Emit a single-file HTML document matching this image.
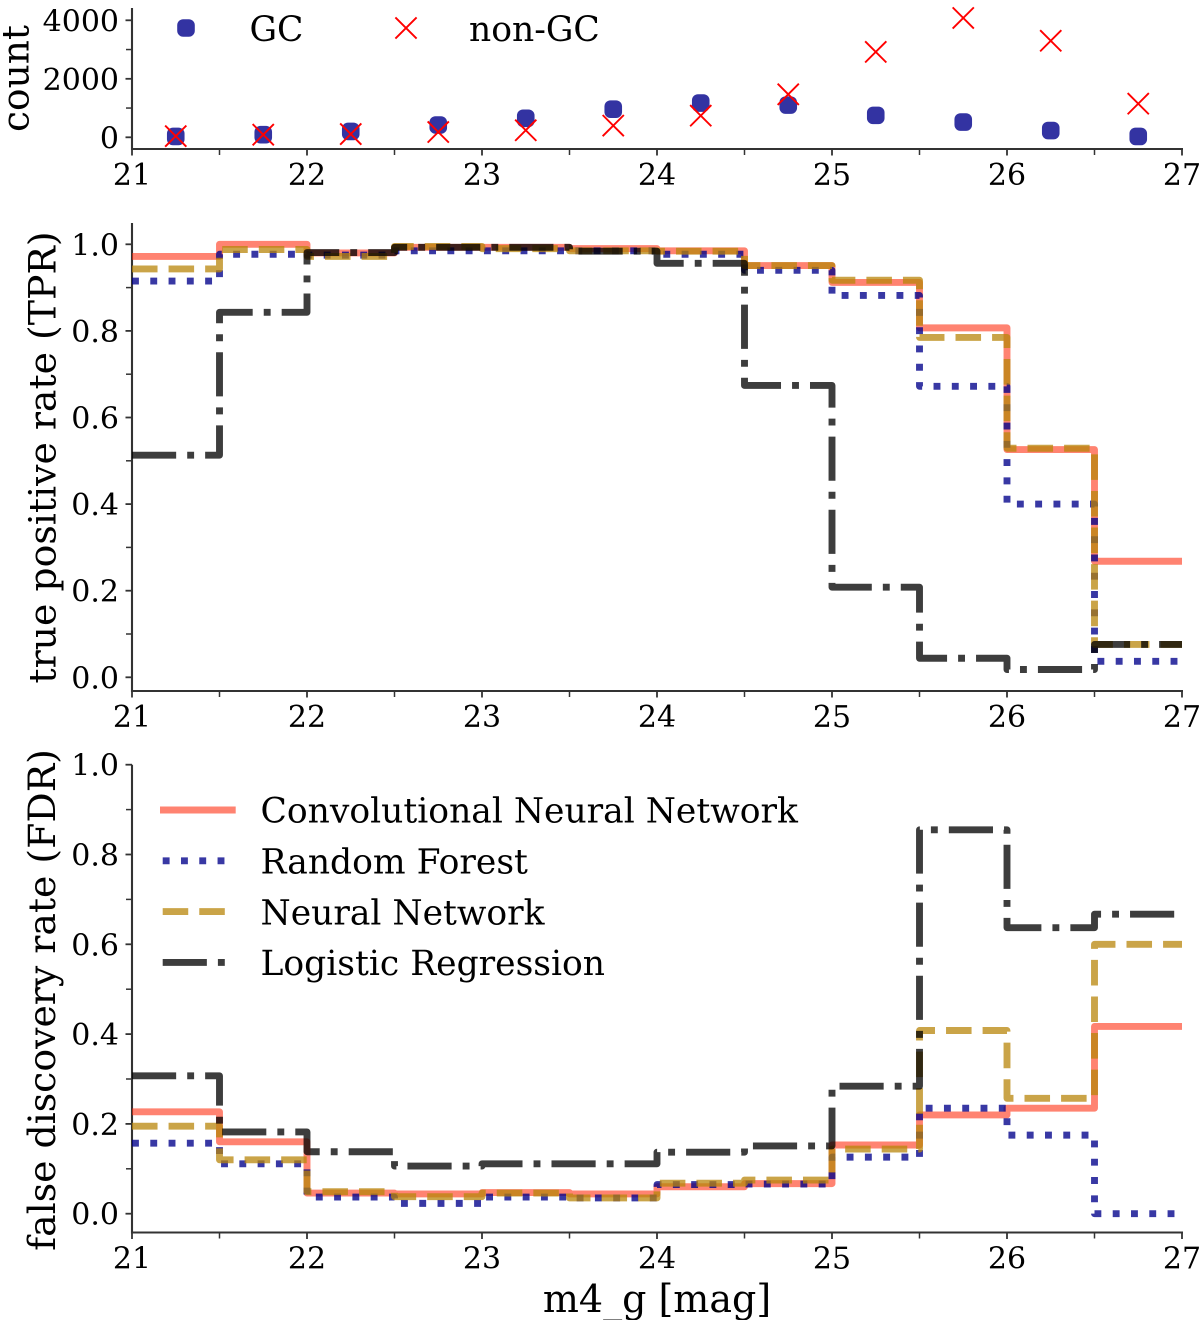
<!DOCTYPE html>
<html lang="en">
<head>
<meta charset="utf-8">
<title>GC classifier performance by magnitude</title>
<style>
html,body{margin:0;padding:0;background:#fff;width:1200px;height:1320px;overflow:hidden}
svg{display:block}
text{font-family:"DejaVu Serif","Liberation Serif",serif;fill:#000}
</style>
</head>
<body>
<svg id="chart" xmlns="http://www.w3.org/2000/svg" width="1200" height="1320" viewBox="0 0 1200 1320">
  <rect width="1200" height="1320" fill="#fff"/>
  <g id="counts-panel"></g>
  <g id="tpr-panel"></g>
  <g id="fdr-panel"></g>
  <text transform="translate(28.5,78.5) rotate(-90)" text-anchor="middle" font-size="37.5">count</text>
  <text transform="translate(55.5,457.5) rotate(-90)" text-anchor="middle" font-size="37.8">true positive rate (TPR)</text>
  <text transform="translate(55,1000) rotate(-90)" text-anchor="middle" font-size="37.8">false discovery rate (FDR)</text>
  <text x="657" y="1312" text-anchor="middle" font-size="38">m4_g [mag]</text>
  <g id="counts-legend"></g>
  <g id="fdr-legend"></g>
</svg>
<script>
// ---- data ----
const binEdges = [21, 21.5, 22, 22.5, 23, 23.5, 24, 24.5, 25, 25.5, 26, 26.5, 27];
const binCenters = [21.25, 21.75, 22.25, 22.75, 23.25, 23.75, 24.25, 24.75, 25.25, 25.75, 26.25, 26.75];
const gcCounts = [30, 90, 200, 420, 650, 960, 1170, 1100, 750, 520, 230, 30];
const nonGcCounts = [40, 90, 110, 180, 240, 400, 740, 1470, 2920, 4080, 3300, 1150];

const tprCnn = [0.972, 1.0, 0.98, 0.993, 0.993, 0.99, 0.985, 0.951, 0.912, 0.807, 0.526, 0.268];
const tprRf = [0.915, 0.977, 0.975, 0.985, 0.985, 0.985, 0.977, 0.94, 0.882, 0.672, 0.40, 0.037];
const tprNn = [0.943, 0.988, 0.972, 0.995, 0.99, 0.985, 0.984, 0.951, 0.917, 0.785, 0.529, 0.076];
const tprLr = [0.513, 0.843, 0.981, 0.993, 0.993, 0.984, 0.956, 0.674, 0.208, 0.044, 0.018, 0.076];

const fdrCnn = [0.227, 0.16, 0.046, 0.044, 0.047, 0.044, 0.06, 0.067, 0.153, 0.22, 0.235, 0.417];
const fdrRf = [0.157, 0.111, 0.037, 0.023, 0.037, 0.035, 0.065, 0.066, 0.126, 0.235, 0.175, 0];
const fdrNn = [0.195, 0.12, 0.049, 0.038, 0.046, 0.035, 0.068, 0.075, 0.144, 0.408, 0.257, 0.60];
const fdrLr = [0.307, 0.182, 0.138, 0.106, 0.111, 0.111, 0.137, 0.151, 0.284, 0.855, 0.637, 0.667];

const xTickLabels = [21, 22, 23, 24, 25, 26, 27];
const xMinorTicks = [21.5, 22.5, 23.5, 24.5, 25.5, 26.5];
const countTickLabels = [0, 2000, 4000];
const countMinorTicks = [1000, 3000];
const rateTickLabels = ["0.0", "0.2", "0.4", "0.6", "0.8", "1.0"];
const rateMinorTicks = [0.1, 0.3, 0.5, 0.7, 0.9];
const modelNames = ["Convolutional Neural Network", "Random Forest", "Neural Network", "Logistic Regression"];

// ---- axis functions ----
const NS = "http://www.w3.org/2000/svg";
const xPos = v => 132 + (v - 21) * 175;
const yCount = v => 137.3 - v * 0.02925;
const yTpr = v => 677.3 - v * 433;
const yFdr = v => 1213.7 - v * 449;

const SPINE = "#333";
const LW = 6.9;
const modelStyles = [
  { color: "#ff2a0a", opacity: 0.58, dash: "" },
  { color: "#00008b", opacity: 0.78, dash: LW + " " + (LW * 1.65) },
  { color: "#b8860b", opacity: 0.75, dash: (LW * 3.7) + " " + (LW * 1.6) },
  { color: "#000", opacity: 0.76, dash: (LW * 6.4) + " " + (LW * 1.6) + " " + LW + " " + (LW * 1.6) }
];

function add(parent, tag, attrs) {
  const el = document.createElementNS(NS, tag);
  for (const k in attrs) el.setAttribute(k, attrs[k]);
  parent.appendChild(el);
  return el;
}
function addText(parent, str, attrs) {
  const t = add(parent, "text", attrs);
  t.textContent = str;
  return t;
}

function drawAxes(g, yFn, top, bottom, yLabels, yValues, yMinor, prefix) {
  const left = add(g, "line", { x1: 132, x2: 132, y1: top, y2: bottom + 1, stroke: SPINE, "stroke-width": 2.1 });
  
  
  const base = add(g, "line", { x1: 131, x2: 1183, y1: bottom, y2: bottom, stroke: SPINE, "stroke-width": 2.1 });
  
  

  xTickLabels.forEach(v => {
    const tick = add(g, "line", { x1: xPos(v), x2: xPos(v), y1: bottom, y2: bottom + 6.5, stroke: SPINE, "stroke-width": 1.8 });
    
    
    const label = addText(g, String(v), { x: xPos(v), y: bottom + 36, "text-anchor": "middle", "font-size": 30 });
    
    
  });
  xMinorTicks.forEach(v => {
    const tick = add(g, "line", { x1: xPos(v), x2: xPos(v), y1: bottom, y2: bottom + 6, stroke: SPINE, "stroke-width": 1.5 });
    
    
  });
  yValues.forEach((v, i) => {
    const tick = add(g, "line", { x1: 125.5, x2: 132, y1: yFn(v), y2: yFn(v), stroke: SPINE, "stroke-width": 1.8 });
    
    
    const label = addText(g, yLabels[i], { x: 119, y: yFn(v) + 11, "text-anchor": "end", "font-size": 30 });
    
    
  });
  yMinor.forEach(v => {
    const tick = add(g, "line", { x1: 126, x2: 132, y1: yFn(v), y2: yFn(v), stroke: SPINE, "stroke-width": 1.5 });
    
    
  });
}

function stepPoints(values, yFn) {
  const pts = [];
  values.forEach((v, i) => {
    pts.push(xPos(binEdges[i]) + "," + yFn(v));
    pts.push(xPos(binEdges[i + 1]) + "," + yFn(v));
  });
  return pts.join(" ");
}

function drawStep(g, values, yFn, style, name) {
  const line = add(g, "polyline", {
    points: stepPoints(values, yFn),
    fill: "none",
    stroke: style.color,
    "stroke-opacity": style.opacity,
    "stroke-width": LW,
    "stroke-linejoin": "round",
    "stroke-linecap": "butt"
  });
  if (style.dash) line.setAttribute("stroke-dasharray", style.dash);
  
  
}

function drawGcMarker(g, cx, cy, name) {
  const c = add(g, "rect", { x: cx - 8.8, y: cy - 8.8, width: 17.6, height: 17.6, rx: 6, ry: 6, fill: "#00008b", "fill-opacity": 0.8 });
  
  
}
function drawCross(g, cx, cy, name) {
  const r = 10.6;
  const p = add(g, "path", {
    d: "M" + (cx - r) + " " + (cy - r) + "L" + (cx + r) + " " + (cy + r) + "M" + (cx - r) + " " + (cy + r) + "L" + (cx + r) + " " + (cy - r),
    stroke: "#f00", "stroke-width": 1.9, fill: "none"
  });
  
  
}

// ---- counts panel ----
const countsPanel = document.getElementById("counts-panel");
drawAxes(countsPanel, yCount, 8, 149, countTickLabels.map(String), countTickLabels, countMinorTicks, "counts");
binCenters.forEach((c, i) => drawGcMarker(countsPanel, xPos(c), yCount(gcCounts[i]), "gc-count-point"));
binCenters.forEach((c, i) => drawCross(countsPanel, xPos(c), yCount(nonGcCounts[i]), "non-gc-count-point"));

const countsLegend = document.getElementById("counts-legend");
drawGcMarker(countsLegend, 186, 28, "legend-gc-marker");
drawCross(countsLegend, 406, 28, "legend-non-gc-marker");
const gcLabel = addText(countsLegend, "GC", { x: 249.5, y: 41, "font-size": 34.5 });


const nonGcLabel = addText(countsLegend, "non-GC", { x: 469, y: 41, "font-size": 34.5 });



// ---- TPR panel ----
const tprPanel = document.getElementById("tpr-panel");
drawAxes(tprPanel, yTpr, 223, 691, rateTickLabels, rateTickLabels.map(Number), rateMinorTicks, "tpr");
drawStep(tprPanel, tprCnn, yTpr, modelStyles[0], "tpr-line-cnn");
drawStep(tprPanel, tprRf, yTpr, modelStyles[1], "tpr-line-random-forest");
drawStep(tprPanel, tprNn, yTpr, modelStyles[2], "tpr-line-neural-network");
drawStep(tprPanel, tprLr, yTpr, modelStyles[3], "tpr-line-logistic-regression");

// ---- FDR panel ----
const fdrPanel = document.getElementById("fdr-panel");
drawAxes(fdrPanel, yFdr, 764.7, 1232.5, rateTickLabels, rateTickLabels.map(Number), rateMinorTicks, "fdr");
drawStep(fdrPanel, fdrCnn, yFdr, modelStyles[0], "fdr-line-cnn");
drawStep(fdrPanel, fdrRf, yFdr, modelStyles[1], "fdr-line-random-forest");
drawStep(fdrPanel, fdrNn, yFdr, modelStyles[2], "fdr-line-neural-network");
drawStep(fdrPanel, fdrLr, yFdr, modelStyles[3], "fdr-line-logistic-regression");

// ---- FDR legend ----
const fdrLegend = document.getElementById("fdr-legend");
modelNames.forEach((name, i) => {
  const y = 810 + i * 50.8;
  const style = modelStyles[i];
  const swatch = add(fdrLegend, "line", {
    x1: style.dash ? 162.7 : 160, x2: 235.7, y1: y, y2: y,
    stroke: style.color, "stroke-opacity": style.opacity, "stroke-width": LW
  });
  if (style.dash) swatch.setAttribute("stroke-dasharray", style.dash);
  
  
  const label = addText(fdrLegend, name, { x: 260.5, y: y + 12.7, "font-size": 34.5 });
  
  
});
</script>
</body>
</html>
